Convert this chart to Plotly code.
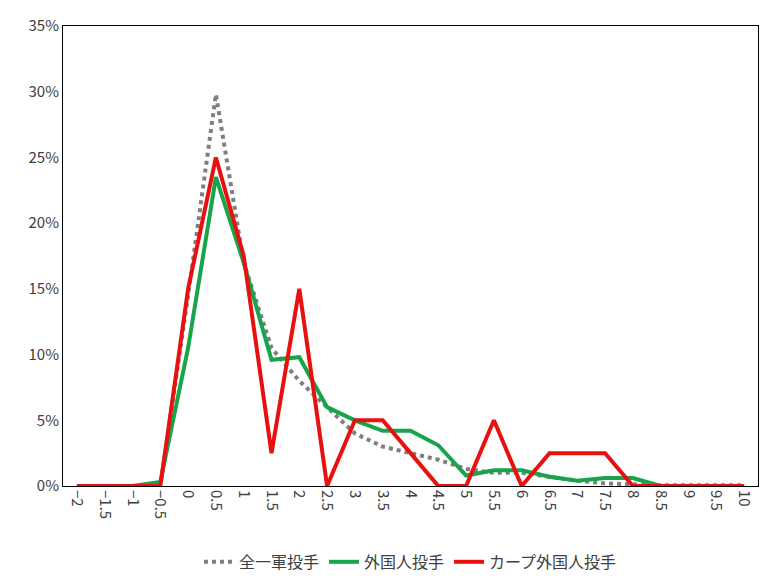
import plotly.graph_objects as go

cats = ["-2","-1.5","-1","-0.5","0","0.5","1","1.5","2","2.5","3","3.5","4","4.5","5","5.5","6","6.5","7","7.5","8","8.5","9","9.5","10"]
labels = [c.replace("-", "−") for c in cats]
all_p = [0,0,0,0,14.5,29.8,17,10.5,8,6,4,3,2.5,2,1.3,1.0,1.0,0.7,0.4,0.2,0.1,0.05,0.05,0.05,0.05]
foreign = [0,0,0,0.3,10.5,23.5,17,9.6,9.8,6,5,4.2,4.2,3.1,0.8,1.2,1.2,0.7,0.4,0.6,0.6,0,0,0,0]
carp = [0,0,0,0,15,25,17.5,2.5,15,0,5,5,2.5,0,0,5,0,2.5,2.5,2.5,0,0,0,0,0]

x = list(range(len(cats)))
fig = go.Figure()
fig.add_trace(go.Scatter(x=x, y=[v/100 for v in all_p], name="全一軍投手", mode="lines",
                         line=dict(color="#7f7f7f", width=4, dash="dot")))
fig.add_trace(go.Scatter(x=x, y=[v/100 for v in foreign], name="外国人投手", mode="lines",
                         line=dict(color="#17a44a", width=4)))
fig.add_trace(go.Scatter(x=x, y=[v/100 for v in carp], name="カープ外国人投手", mode="lines",
                         line=dict(color="#e8110f", width=4)))
fig.update_layout(
    width=767, height=581, paper_bgcolor="white", plot_bgcolor="white",
    margin=dict(l=55, r=17, t=18, b=103, autoexpand=False),
    font=dict(family="Noto Sans CJK JP", size=15, color="#404040"),
    legend=dict(orientation="h", x=0.5, xanchor="center", y=-0.165, yanchor="middle", font=dict(size=16)),
    xaxis=dict(tickmode="array", tickvals=x, ticktext=labels, tickangle=90, range=[-0.5, len(cats)-0.5],
               showline=True, linecolor="black", mirror=True, showgrid=False, zeroline=False),
    yaxis=dict(range=[0, 0.35], dtick=0.05, tickformat=".0%", showline=True, linecolor="black", mirror=True,
               showgrid=False, zeroline=False),
)
fig.write_html("out.html")
